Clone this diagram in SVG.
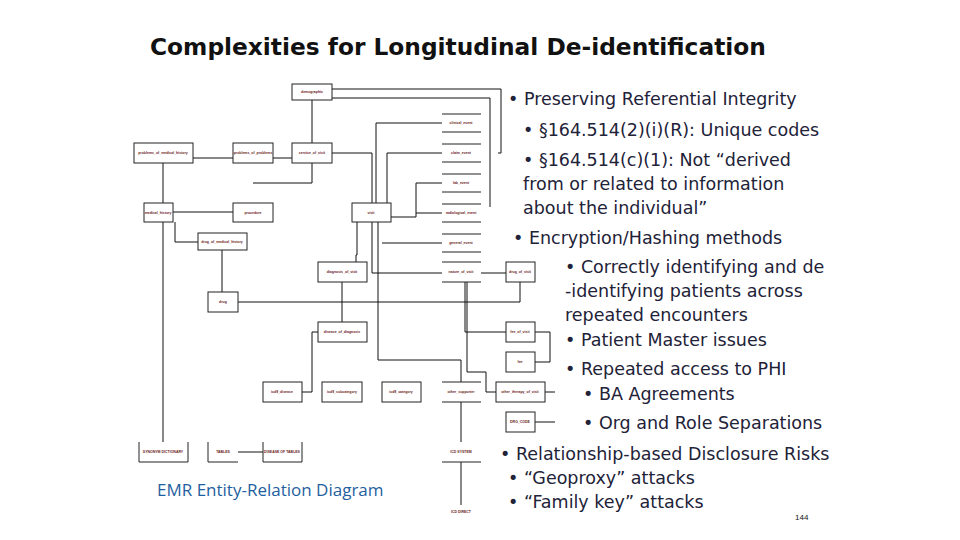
<svg xmlns="http://www.w3.org/2000/svg" width="960" height="540" viewBox="0 0 960 540">
<style>
.b{fill:#fff;stroke:#222;stroke-width:1}
.o{fill:none;stroke:#222;stroke-width:1}
.t{font-family:"Liberation Sans",sans-serif;font-size:3.5px;fill:#6b1a1a;text-anchor:middle;font-weight:bold}
.c path{fill:none;stroke:#111;stroke-width:1}
.tx{font-family:"DejaVu Sans",sans-serif;font-size:17.5px;fill:#222238}
</style>
<rect width="960" height="540" fill="#fff"/>
<text x="150" y="55" font-family="DejaVu Sans,sans-serif" font-weight="bold" font-size="23.3" fill="#111">Complexities for Longitudinal De-identification</text>
<g class="c">
<path d="M332 89H501V153H498M332 98H490V207M312 100V143M193 158H233M273 158H292M332 153H372V203M312 163V183H253M163 163V203M173 212H233M163 222V442M175 222V242H198M222 250V292M442 123H376V203M442 153H387V203M391 217H416V183H442M416 213H442M442 243H382M357 222V255H356V262M372 222V273H442M378 222V360H461V382M481 273H506M238 302H520V282M465 282V332H506M467 282V372H486V392H496M535 332H550V362H535M342 282V322M302 392H312V332H318M461 402V442M461 462V505M535 422H555M545 392H555M238 452H263"/>
</g>
<g id="n-demographic"><rect class="b" x="292" y="84" width="40" height="16"/><text class="t" x="312" y="93">demographic</text></g>
<g id="n-pmh"><rect class="b" x="134" y="143" width="59" height="20"/><text class="t" x="163" y="154">problems_of_medical_history</text></g>
<g id="n-pp"><rect class="b" x="233" y="143" width="40" height="20"/><text class="t" x="253" y="154">problems_of_problems</text></g>
<g id="n-sov"><rect class="b" x="292" y="143" width="40" height="20"/><text class="t" x="312" y="154">service_of_visit</text></g>
<g id="n-mh"><rect class="b" x="144" y="203" width="29" height="19"/><text class="t" x="158" y="214">medical_history</text></g>
<g id="n-proc"><rect class="b" x="233" y="203" width="40" height="19"/><text class="t" x="253" y="214">procedure</text></g>
<g id="n-visit"><rect class="b" x="352" y="203" width="39" height="19"/><text class="t" x="371" y="214">visit</text></g>
<g id="n-dmh"><rect class="b" x="198" y="233" width="49" height="17"/><text class="t" x="222" y="243">drug_of_medical_history</text></g>
<g id="n-ce"><path class="o" d="M442 114H481M442 132H481"/><text class="t" x="461" y="124">clinical_event</text></g>
<g id="n-cl"><path class="o" d="M442 144H481M442 162H481"/><text class="t" x="461" y="154">claim_event</text></g>
<g id="n-lab"><path class="o" d="M442 174H481M442 192H481"/><text class="t" x="461" y="184">lab_event</text></g>
<g id="n-rad"><path class="o" d="M442 204H481M442 222H481"/><text class="t" x="461" y="214">radiological_event</text></g>
<g id="n-gen"><path class="o" d="M442 234H481M442 252H481"/><text class="t" x="461" y="244">general_event</text></g>
<g id="n-dov"><rect class="b" x="318" y="262" width="49" height="20"/><text class="t" x="342" y="273">diagnosis_of_visit</text></g>
<g id="n-nov"><path class="o" d="M442 262H481M442 282H481"/><text class="t" x="461" y="273">nature_of_visit</text></g>
<g id="n-drv"><rect class="b" x="506" y="262" width="29" height="20"/><text class="t" x="520" y="273">drug_of_visit</text></g>
<g id="n-drug"><rect class="b" x="208" y="292" width="30" height="20"/><text class="t" x="223" y="303">drug</text></g>
<g id="n-dod"><rect class="b" x="318" y="322" width="49" height="20"/><text class="t" x="342" y="333">disease_of_diagnosis</text></g>
<g id="n-fov"><rect class="b" x="506" y="322" width="29" height="20"/><text class="t" x="520" y="333">fee_of_visit</text></g>
<g id="n-fee"><rect class="b" x="506" y="352" width="29" height="20"/><text class="t" x="520" y="363">fee</text></g>
<g id="n-icd"><rect class="b" x="263" y="382" width="39" height="20"/><text class="t" x="282" y="393">icd9_disease</text></g>
<g id="n-icdc"><rect class="b" x="322" y="382" width="40" height="20"/><text class="t" x="342" y="393">icd9_subcategory</text></g>
<g id="n-icds"><rect class="b" x="382" y="382" width="39" height="20"/><text class="t" x="401" y="393">icd9_category</text></g>
<g id="n-os"><path class="o" d="M442 382H481M442 402H481"/><text class="t" x="461" y="393">other_supporter</text></g>
<g id="n-otv"><rect class="b" x="496" y="382" width="49" height="20"/><text class="t" x="520" y="393">other_therapy_of_visit</text></g>
<g id="n-drg"><rect class="b" x="506" y="412" width="29" height="20"/><text class="t" x="520" y="423">DRG_CODE</text></g>
<g id="n-syn"><path class="o" d="M139 442V462H188V442"/><text class="t" x="163" y="453">SYNONYM DICTIONARY</text></g>
<g id="n-tab"><path class="o" d="M208 442V462H238"/><text class="t" x="223" y="453">TABLES</text></g>
<g id="n-dot"><path class="o" d="M263 442V462H302V442"/><text class="t" x="282" y="453">DISEASE OF TABLES</text></g>
<g id="n-isys"><path class="o" d="M442 462H481"/><text class="t" x="461" y="453">ICD SYSTEM</text></g>
<g id="n-idir"><text class="t" x="461" y="513">ICD DIRECT</text></g>
<text x="157" y="496" font-family="Open Sans,sans-serif" font-size="17" fill="#1f5f9f">EMR Entity-Relation Diagram</text>
<g class="tx">
<text x="508" y="105">• Preserving Referential Integrity</text>
<text x="523" y="136">• §164.514(2)(i)(R): Unique codes</text>
<text x="523" y="166">• §164.514(c)(1): Not “derived</text>
<text x="523" y="190">from or related to information</text>
<text x="523" y="214">about the individual”</text>
<text x="513" y="244">• Encryption/Hashing methods</text>
<text x="565" y="273">• Correctly identifying and de</text>
<text x="565" y="297">-identifying patients across</text>
<text x="565" y="321">repeated encounters</text>
<text x="565" y="346">• Patient Master issues</text>
<text x="565" y="375">• Repeated access to PHI</text>
<text x="583" y="400">• BA Agreements</text>
<text x="583" y="429">• Org and Role Separations</text>
<text x="500" y="460">• Relationship-based Disclosure Risks</text>
<text x="508" y="484">• “Geoproxy” attacks</text>
<text x="508" y="508">• “Family key” attacks</text>
</g>
<text x="795" y="520" font-family="Liberation Sans,sans-serif" font-size="8" fill="#111">144</text>
</svg>
